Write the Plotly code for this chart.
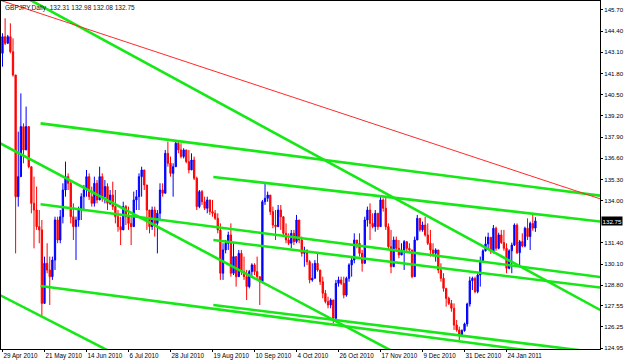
import plotly.graph_objects as go
import numpy as np

# ---------------- data (GBPJPY daily, bar index 0 = 29 Apr 2010) ----------------
first_open = 143.04

close = [
    144.06, 143.65, 144.06, 143.14, 141.71, 134.24, 135.47, 138.54, 137.11, 138.54,
    136.08, 133.83, 133.42, 132.40, 132.20, 127.69, 130.15, 129.74, 129.33, 130.35,
    132.81, 131.58, 133.01, 134.65, 135.47, 135.06, 133.01, 132.40, 132.81, 133.42,
    134.24, 134.65, 135.47, 134.24, 133.83, 135.06, 134.04, 135.47, 134.24, 134.86,
    133.83, 134.34, 133.63, 133.01, 132.40, 132.20, 133.63, 133.01, 132.60, 132.40,
    134.04, 134.24,
    135.47, 135.88, 134.96, 133.42, 132.40, 133.42, 132.60, 133.22, 134.65, 134.45,
    136.90, 136.29, 135.67, 136.08, 137.52, 137.11, 136.70, 137.11, 136.39, 135.88,
    136.49, 135.37, 133.63, 134.55, 133.93, 133.53, 134.04, 133.32, 133.22, 132.91,
    132.20, 129.54, 130.97, 131.38, 131.89, 129.54, 130.56, 129.33, 130.76, 129.64,
    129.33, 128.72, 129.64, 130.05, 129.64, 129.33, 129.02, 133.93, 134.14, 134.34,
    133.32, 132.50,
    132.40, 133.42, 133.01, 131.99, 131.58, 131.38, 131.99, 131.48, 132.81, 131.58,
    130.76, 130.97, 130.25, 129.13, 129.23, 130.15, 129.74, 129.02, 128.31, 127.80,
    127.59, 127.90, 126.77, 128.92, 129.13, 128.92, 128.20, 129.23, 130.05, 130.35,
    131.58, 131.38, 130.76, 130.15, 132.81, 133.42, 132.60, 132.40, 133.22, 132.40,
    134.04, 133.53, 132.40, 131.17, 129.94, 131.58, 131.07, 130.66, 130.97, 131.48,
    131.07, 130.97,
    129.33, 131.58, 132.91, 132.20, 132.50, 131.89, 131.38, 130.97, 130.76, 130.97,
    129.74, 129.23, 128.61, 128.00, 127.69, 127.39, 126.36, 126.06, 125.75, 126.02,
    126.43, 127.65, 129.08, 129.23, 128.41, 129.43, 130.31, 130.92, 131.34, 131.75,
    130.87, 132.30, 131.07, 131.89, 131.42, 131.07, 129.84, 130.92, 131.27, 132.50,
    130.80, 131.48, 131.21, 132.30, 131.79, 132.60, 132.31, 132.75,
]

high = [
    144.27, 145.19, 144.17, 144.88, 143.96, 141.71, 138.23, 140.58, 138.74, 139.77,
    138.54, 136.08, 135.47, 134.86, 133.42, 132.81, 130.56, 131.38, 130.56, 130.56,
    133.01, 133.01, 133.42, 135.06, 136.39, 135.67, 135.26, 133.83, 133.01, 133.63,
    134.45, 134.96, 135.88, 135.67, 134.86, 135.47, 135.26, 136.08, 135.67, 135.26,
    135.06, 134.65, 135.16, 134.65, 133.42, 133.01, 133.93, 133.73, 133.63, 133.01,
    134.55, 134.65,
    135.67, 136.08, 135.47, 134.86, 133.42, 133.63, 133.63, 133.42, 135.06, 135.06,
    137.11, 137.62, 136.70, 136.29, 137.62, 137.72, 137.52, 137.21, 137.11, 137.11,
    136.90, 136.70, 135.47, 134.65, 134.65, 134.24, 134.24, 133.93, 134.04, 133.42,
    133.22, 132.60, 131.38, 131.58, 132.09, 132.60, 131.38, 130.56, 130.97, 130.97,
    130.56, 129.74, 129.74, 130.15, 130.15, 130.56, 129.33, 134.04, 135.06, 134.55,
    134.34, 133.63,
    133.42, 133.73, 133.73, 133.01, 132.60, 131.99, 132.20, 132.20, 133.12, 132.60,
    131.79, 131.17, 130.76, 130.35, 130.15, 130.35, 130.76, 129.74, 129.33, 128.51,
    128.10, 128.00, 127.90, 129.13, 129.33, 129.33, 129.33, 129.33, 130.15, 130.56,
    131.99, 131.58, 131.99, 130.97, 133.01, 133.63, 133.83, 133.22, 133.42, 133.01,
    134.24, 134.14, 134.24, 132.60, 132.20, 131.79, 131.79, 131.58, 131.38, 131.58,
    131.38, 131.38,
    130.56, 131.79, 133.12, 132.91, 132.71, 133.01, 132.60, 132.20, 131.38, 131.07,
    130.56, 130.15, 129.54, 128.51, 128.10, 127.90, 127.69, 126.67, 126.26, 126.10,
    126.51, 127.73, 129.33, 129.33, 129.33, 129.54, 130.56, 131.01, 131.79, 132.03,
    131.62, 132.50, 132.40, 132.03, 132.20, 132.20, 131.38, 131.01, 131.42, 132.60,
    132.60, 131.58, 131.99, 132.40, 132.91, 132.71, 133.12, 132.98,
]

low = [
    142.22, 143.55, 143.65, 143.04, 141.61, 130.76, 133.63, 135.67, 136.29, 137.31,
    135.98, 133.22, 131.07, 132.20, 131.38, 126.87, 127.69, 129.54, 127.59, 129.13,
    129.74, 131.38, 131.38, 132.60, 134.24, 134.65, 132.60, 131.58, 130.35, 132.40,
    132.81, 133.42, 134.24, 134.04, 133.63, 133.63, 133.83, 134.04, 133.93, 133.83,
    133.42, 133.73, 133.42, 132.60, 132.09, 131.27, 132.40, 132.50, 132.20, 131.27,
    132.40, 133.42,
    133.42, 134.24, 134.65, 132.20, 131.99, 132.20, 131.79, 130.76, 132.81, 134.24,
    134.45, 136.08, 135.47, 134.24, 136.08, 136.90, 136.59, 136.59, 136.29, 135.67,
    135.88, 135.26, 133.42, 133.53, 133.73, 133.42, 133.22, 133.12, 133.01, 132.81,
    131.99, 129.13, 129.13, 130.76, 130.97, 129.33, 129.43, 128.72, 129.33, 129.43,
    129.13, 127.90, 128.61, 129.33, 129.43, 129.13, 127.59, 128.92, 133.73, 133.93,
    133.12, 132.30,
    131.58, 132.60, 132.20, 131.79, 131.38, 131.27, 131.07, 131.27, 131.38, 131.38,
    130.56, 129.94, 130.05, 128.92, 129.02, 129.33, 129.64, 128.82, 128.00, 127.69,
    127.39, 127.39, 126.47, 126.67, 128.72, 128.82, 128.00, 128.10, 129.02, 129.33,
    130.15, 131.07, 130.56, 129.64, 130.15, 132.40, 131.58, 132.30, 132.09, 132.20,
    132.91, 133.32, 132.20, 130.97, 129.54, 129.94, 130.87, 130.46, 130.76, 129.74,
    130.87, 130.76,
    129.23, 129.33, 131.58, 132.09, 132.09, 131.79, 131.27, 130.56, 130.56, 130.25,
    129.54, 129.02, 128.41, 127.49, 127.59, 127.18, 126.06, 125.95, 125.44, 125.65,
    125.95, 126.26, 127.49, 128.51, 128.31, 128.31, 128.72, 130.25, 130.87, 130.97,
    130.72, 130.76, 130.92, 131.01, 131.34, 130.92, 129.54, 129.78, 129.54, 131.21,
    130.72, 129.94, 131.13, 131.13, 131.58, 130.97, 132.15, 132.08,
]

tick_bars = [0, 16, 32, 48, 64, 80, 96, 112, 128, 144, 160, 176, 192]
tick_text = ["29 Apr 2010", "21 May 2010", "14 Jun 2010", "6 Jul 2010", "28 Jul 2010",
             "19 Aug 2010", "10 Sep 2010", "4 Oct 2010", "26 Oct 2010", "17 Nov 2010",
             "9 Dec 2010", "31 Dec 2010", "24 Jan 2011"]

price_ticks = [145.70, 144.40, 143.10, 141.80, 140.50, 139.20, 137.90, 136.60, 135.30,
               134.00, 131.40, 130.10, 128.80, 127.55, 126.25, 124.95]

# trend lines: anchor A (bar, price), anchor B (bar, price), ray starts at A?
green_lines = [
    (11.6, 146.22, 200, 129.71, False),
    (0.0, 137.44, 140, 125.48, False),
    (0.0, 128.12, 30, 125.64, False),
    (14.5, 138.74, 200, 134.88, True),
    (80.3, 135.45, 200, 133.23, True),
    (14.5, 133.77, 200, 129.89, True),
    (80.3, 131.58, 200, 129.21, True),
    (14.5, 128.76, 200, 124.81, True),
    (80.3, 127.59, 200, 125.21, True),
]
red_lines = [
    (0.0, 146.25, 200, 135.58, False),
]

title_text = "GBPJPY,Daily  132.31 132.98 132.08 132.75"
last_price = 132.75

# ---------------- build ----------------
n = len(close)
bars = np.arange(n)
opens = [first_open] + close[:-1]
hi = [max(h, o, c) for h, o, c in zip(high, opens, close)]
lo = [min(l, o, c) for l, o, c in zip(low, opens, close)]

X_MIN, X_MAX = -0.57, 227.6
Y_MIN, Y_MAX = 124.89, 146.25

fig = go.Figure()
fig.add_trace(go.Candlestick(
    x=bars, open=opens, high=hi, low=lo, close=close,
    increasing=dict(line=dict(color="#0000ff", width=1), fillcolor="#0000ff"),
    decreasing=dict(line=dict(color="#ff0000", width=1), fillcolor="#ff0000"),
    whiskerwidth=0, showlegend=False, hoverinfo="skip",
))


def add_line(spec, color, width):
    b1, p1, b2, p2, ray = spec
    slope = (p2 - p1) / (b2 - b1)
    xs = np.array([b1 if ray else X_MIN - 5, X_MAX + 5])
    ys = p1 + slope * (xs - b1)
    fig.add_trace(go.Scatter(x=xs, y=ys, mode="lines",
                             line=dict(color=color, width=width),
                             showlegend=False, hoverinfo="skip"))


for spec in green_lines:
    add_line(spec, "#16e816", 2.6)
for spec in red_lines:
    add_line(spec, "#ff2a2a", 1)

FONT = "Liberation Sans"
fig.update_layout(
    width=625, height=361,
    margin=dict(l=1, r=25, t=1, b=12),
    paper_bgcolor="white", plot_bgcolor="white",
    showlegend=False,
    font=dict(family=FONT, size=6.5, color="black"),
    xaxis=dict(
        range=[X_MIN, X_MAX], rangeslider=dict(visible=False),
        showgrid=False, zeroline=False,
        showline=True, linecolor="black", linewidth=1, mirror=True,
        tickmode="array", tickvals=tick_bars, ticktext=tick_text,
        ticks="outside", ticklen=2, tickcolor="black",
        tickangle=0, ticklabelposition="outside right",
        tickfont=dict(family=FONT, size=6.3, color="black"),
    ),
    yaxis=dict(
        range=[Y_MIN, Y_MAX], side="right",
        showgrid=False, zeroline=False,
        showline=True, linecolor="black", linewidth=1, mirror=True,
        tickmode="array", tickvals=price_ticks,
        ticktext=[f"{v:.2f}" for v in price_ticks],
        ticks="outside", ticklen=2, tickcolor="black",
        tickfont=dict(family=FONT, size=6.2, color="black"),
    ),
)

fig.add_annotation(x=0.004, y=0.997, xref="paper", yref="paper",
                   xanchor="left", yanchor="top", showarrow=False,
                   text=title_text, font=dict(family=FONT, size=6.5, color="#111"))
fig.add_annotation(x=1.0, y=last_price, xref="paper", yref="y",
                   xanchor="left", yanchor="middle", showarrow=False,
                   xshift=1, text=f"{last_price:.2f}", bgcolor="black",
                   borderpad=0.5, font=dict(family=FONT, size=6.2, color="white"))

fig.write_html("out.html")
